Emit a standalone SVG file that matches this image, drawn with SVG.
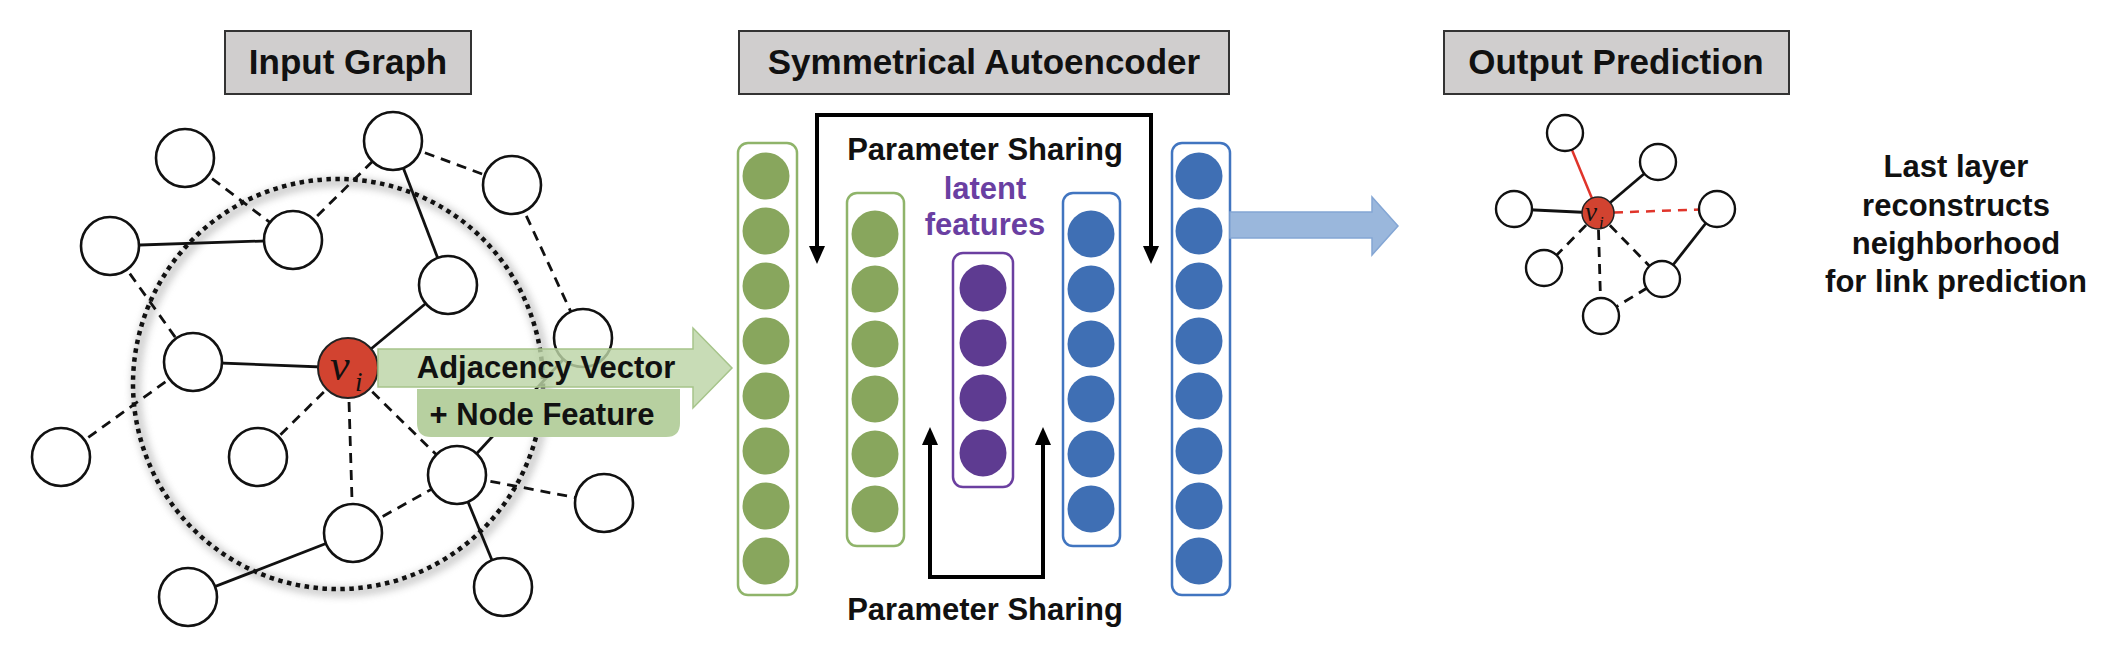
<svg xmlns="http://www.w3.org/2000/svg" width="2110" height="646" viewBox="0 0 2110 646">
<defs>
<style>
.hdr{fill:#d0cece;stroke:#333;stroke-width:2}
.ht{font-family:"Liberation Sans",Arial,sans-serif;font-weight:bold;font-size:35px;fill:#111;text-anchor:middle}
.lbl{font-family:"Liberation Sans",Arial,sans-serif;font-weight:bold;font-size:31px;fill:#111;text-anchor:middle}
.n{fill:#fff;stroke:#111;stroke-width:2.6}
.sn{fill:#fff;stroke:#111;stroke-width:2.4}
.e{stroke:#111;stroke-width:2.8;fill:none}
.d{stroke:#111;stroke-width:2.8;fill:none;stroke-dasharray:10 7}
.g{fill:#88a65d}
.p{fill:#5e3b91}
.b{fill:#3f6fb4}
.gb{fill:#fff;stroke:#8fb46a;stroke-width:2.5}
.pb{fill:#fff;stroke:#6b3fa0;stroke-width:2.5}
.bb{fill:#fff;stroke:#4175c0;stroke-width:2.5}
.ps{stroke:#000;stroke-width:4;fill:none}
.vi{font-family:"Liberation Serif","Times New Roman",serif;font-style:italic;fill:#111}
</style>
<filter id="blur" x="-20%" y="-20%" width="140%" height="140%"><feGaussianBlur stdDeviation="4"/></filter>
</defs>
<rect width="2110" height="646" fill="#fff"/>

<!-- Headers -->
<g id="hdr-input"><rect class="hdr" x="225" y="31" width="246" height="63"/><text class="ht" x="348" y="74">Input Graph</text></g>
<g id="hdr-ae"><rect class="hdr" x="739" y="31" width="490" height="63"/><text class="ht" x="984" y="74">Symmetrical Autoencoder</text></g>
<g id="hdr-out"><rect class="hdr" x="1444" y="31" width="345" height="63"/><text class="ht" x="1616" y="74">Output Prediction</text></g>

<!-- Neighborhood dotted circle -->
<g id="neighborhood">
<circle cx="341" cy="387" r="205" fill="none" stroke="#888" stroke-width="7" opacity="0.55" filter="url(#blur)"/>
<circle cx="338" cy="384" r="205" fill="none" stroke="#111" stroke-width="4.5" stroke-dasharray="4.5 4.5"/>
</g>

<!-- Input graph edges -->
<g id="input-edges">
<line class="d" x1="185" y1="158" x2="293" y2="240"/>
<line class="e" x1="110" y1="246" x2="293" y2="240"/>
<line class="d" x1="110" y1="246" x2="193" y2="362"/>
<line class="d" x1="293" y1="240" x2="393" y2="141"/>
<line class="d" x1="393" y1="141" x2="512" y2="185"/>
<line class="e" x1="393" y1="141" x2="448" y2="285"/>
<line class="d" x1="512" y1="185" x2="583" y2="338"/>
<line class="e" x1="448" y1="285" x2="348" y2="368"/>
<line class="e" x1="193" y1="362" x2="348" y2="368"/>
<line class="d" x1="193" y1="362" x2="61" y2="457"/>
<line class="d" x1="348" y1="368" x2="258" y2="457"/>
<line class="d" x1="348" y1="368" x2="353" y2="533"/>
<line class="d" x1="348" y1="368" x2="457" y2="475"/>
<line class="d" x1="353" y1="533" x2="457" y2="475"/>
<line class="d" x1="457" y1="475" x2="604" y2="503"/>
<line class="e" x1="457" y1="475" x2="503" y2="587"/>
<line class="e" x1="457" y1="475" x2="583" y2="338"/>
<line class="e" x1="353" y1="533" x2="188" y2="597"/>
</g>

<!-- Input graph nodes -->
<g id="node-a"><circle class="n" cx="185" cy="158" r="29"/></g>
<g id="node-b"><circle class="n" cx="110" cy="246" r="29"/></g>
<g id="node-c"><circle class="n" cx="293" cy="240" r="29"/></g>
<g id="node-e"><circle class="n" cx="393" cy="141" r="29"/></g>
<g id="node-f"><circle class="n" cx="512" cy="185" r="29"/></g>
<g id="node-g"><circle class="n" cx="448" cy="285" r="29"/></g>
<g id="node-h"><circle class="n" cx="583" cy="338" r="29"/></g>
<g id="node-d"><circle class="n" cx="193" cy="362" r="29"/></g>
<g id="node-i"><circle class="n" cx="61" cy="457" r="29"/></g>
<g id="node-j"><circle class="n" cx="258" cy="457" r="29"/></g>
<g id="node-k"><circle class="n" cx="353" cy="533" r="29"/></g>
<g id="node-m"><circle class="n" cx="457" cy="475" r="29"/></g>
<g id="node-n"><circle class="n" cx="604" cy="503" r="29"/></g>
<g id="node-o"><circle class="n" cx="503" cy="587" r="29"/></g>
<g id="node-l"><circle class="n" cx="188" cy="597" r="29"/></g>
<g id="node-vi">
<circle cx="348" cy="368" r="30" fill="#d24330" stroke="#222" stroke-width="2"/>
<text class="vi" x="330" y="380" font-size="44">v</text>
<text class="vi" x="355" y="391" font-size="27">i</text>
</g>

<!-- Green input arrow -->
<g id="input-arrow">
<polygon points="378,349 693,349 693,328 732,368 693,408 693,387 378,387" fill="#bcd4a6" fill-opacity="0.82" stroke="#a6c48a" stroke-width="1.5"/>
<path d="M417,389 H680 V423 Q680,437 666,437 H431 Q417,437 417,423 Z" fill="#b7d0a0"/>
<text class="lbl" x="546" y="378" font-size="32">Adjacency Vector</text>
<text class="lbl" x="542" y="425" font-size="32">+ Node Feature</text>
</g>

<!-- Autoencoder layers -->
<g id="layer1">
<rect class="gb" x="738" y="143" width="59" height="452" rx="10"/>
<circle class="g" cx="766" cy="176" r="23.5"/><circle class="g" cx="766" cy="231" r="23.5"/>
<circle class="g" cx="766" cy="286" r="23.5"/><circle class="g" cx="766" cy="341" r="23.5"/>
<circle class="g" cx="766" cy="396" r="23.5"/><circle class="g" cx="766" cy="451" r="23.5"/>
<circle class="g" cx="766" cy="506" r="23.5"/><circle class="g" cx="766" cy="561" r="23.5"/>
</g>
<g id="layer2">
<rect class="gb" x="847" y="193" width="57" height="353" rx="10"/>
<circle class="g" cx="875" cy="234" r="23.5"/><circle class="g" cx="875" cy="289" r="23.5"/>
<circle class="g" cx="875" cy="344" r="23.5"/><circle class="g" cx="875" cy="399" r="23.5"/>
<circle class="g" cx="875" cy="454" r="23.5"/><circle class="g" cx="875" cy="509" r="23.5"/>
</g>
<g id="layer3">
<rect class="pb" x="953" y="253" width="60" height="234" rx="10"/>
<circle class="p" cx="983" cy="288" r="23.5"/><circle class="p" cx="983" cy="343" r="23.5"/>
<circle class="p" cx="983" cy="398" r="23.5"/><circle class="p" cx="983" cy="453" r="23.5"/>
</g>
<g id="layer4">
<rect class="bb" x="1063" y="193" width="57" height="353" rx="10"/>
<circle class="b" cx="1091" cy="234" r="23.5"/><circle class="b" cx="1091" cy="289" r="23.5"/>
<circle class="b" cx="1091" cy="344" r="23.5"/><circle class="b" cx="1091" cy="399" r="23.5"/>
<circle class="b" cx="1091" cy="454" r="23.5"/><circle class="b" cx="1091" cy="509" r="23.5"/>
</g>
<g id="layer5">
<rect class="bb" x="1172" y="143" width="58" height="452" rx="10"/>
<circle class="b" cx="1199" cy="176" r="23.5"/><circle class="b" cx="1199" cy="231" r="23.5"/>
<circle class="b" cx="1199" cy="286" r="23.5"/><circle class="b" cx="1199" cy="341" r="23.5"/>
<circle class="b" cx="1199" cy="396" r="23.5"/><circle class="b" cx="1199" cy="451" r="23.5"/>
<circle class="b" cx="1199" cy="506" r="23.5"/><circle class="b" cx="1199" cy="561" r="23.5"/>
</g>

<!-- Parameter sharing connectors -->
<g id="param-sharing">
<path class="ps" d="M817,248 V115 H1151 V248"/>
<polygon points="809,246 825,246 817,264" fill="#000"/>
<polygon points="1143,246 1159,246 1151,264" fill="#000"/>
<path class="ps" d="M930,443 V577 H1043 V443"/>
<polygon points="922,445 938,445 930,427" fill="#000"/>
<polygon points="1035,445 1051,445 1043,427" fill="#000"/>
<text class="lbl" x="985" y="160" font-size="32">Parameter Sharing</text>
<text class="lbl" x="985" y="620" font-size="32">Parameter Sharing</text>
<text class="lbl" x="985" y="199" font-size="30" style="fill:#6a3fa2">latent</text>
<text class="lbl" x="985" y="235" font-size="30" style="fill:#6a3fa2">features</text>
</g>

<!-- Blue output arrow -->
<g id="output-arrow">
<polygon points="1230,212 1372,212 1372,197 1398,226 1372,255 1372,238 1230,238" fill="#9ab7dc" stroke="#84a6d4" stroke-width="1.5"/>
</g>

<!-- Output graph -->
<g id="output-edges">
<line x1="1598" y1="213" x2="1565" y2="133" stroke="#e0342a" stroke-width="2.5"/>
<line class="e" x1="1598" y1="213" x2="1658" y2="162" stroke-width="2.5"/>
<line class="e" x1="1598" y1="213" x2="1514" y2="209" stroke-width="2.5"/>
<line x1="1598" y1="213" x2="1717" y2="209" stroke="#e0342a" stroke-width="2.5" stroke-dasharray="9 7"/>
<line class="d" x1="1598" y1="213" x2="1544" y2="268" stroke-width="2.5"/>
<line class="d" x1="1598" y1="213" x2="1601" y2="316" stroke-width="2.5"/>
<line class="d" x1="1598" y1="213" x2="1662" y2="279" stroke-width="2.5"/>
<line class="e" x1="1717" y1="209" x2="1662" y2="279" stroke-width="2.5"/>
<line class="d" x1="1662" y1="279" x2="1601" y2="316" stroke-width="2.5"/>
</g>
<g id="out-node-p"><circle class="sn" cx="1565" cy="133" r="18"/></g>
<g id="out-node-q"><circle class="sn" cx="1658" cy="162" r="18"/></g>
<g id="out-node-r"><circle class="sn" cx="1514" cy="209" r="18"/></g>
<g id="out-node-s"><circle class="sn" cx="1717" cy="209" r="18"/></g>
<g id="out-node-t"><circle class="sn" cx="1544" cy="268" r="18"/></g>
<g id="out-node-u"><circle class="sn" cx="1662" cy="279" r="18"/></g>
<g id="out-node-v"><circle class="sn" cx="1601" cy="316" r="18"/></g>
<g id="out-node-vi">
<circle cx="1598" cy="213" r="16" fill="#d24330" stroke="#222" stroke-width="1.5"/>
<text class="vi" x="1585" y="221" font-size="27">v</text>
<text class="vi" x="1599" y="228" font-size="17">i</text>
</g>

<!-- Right caption -->
<g id="caption">
<text class="lbl" x="1956" y="177" font-size="31">Last layer</text>
<text class="lbl" x="1956" y="216" font-size="31">reconstructs</text>
<text class="lbl" x="1956" y="254" font-size="31">neighborhood</text>
<text class="lbl" x="1956" y="292" font-size="31">for link prediction</text>
</g>
</svg>
